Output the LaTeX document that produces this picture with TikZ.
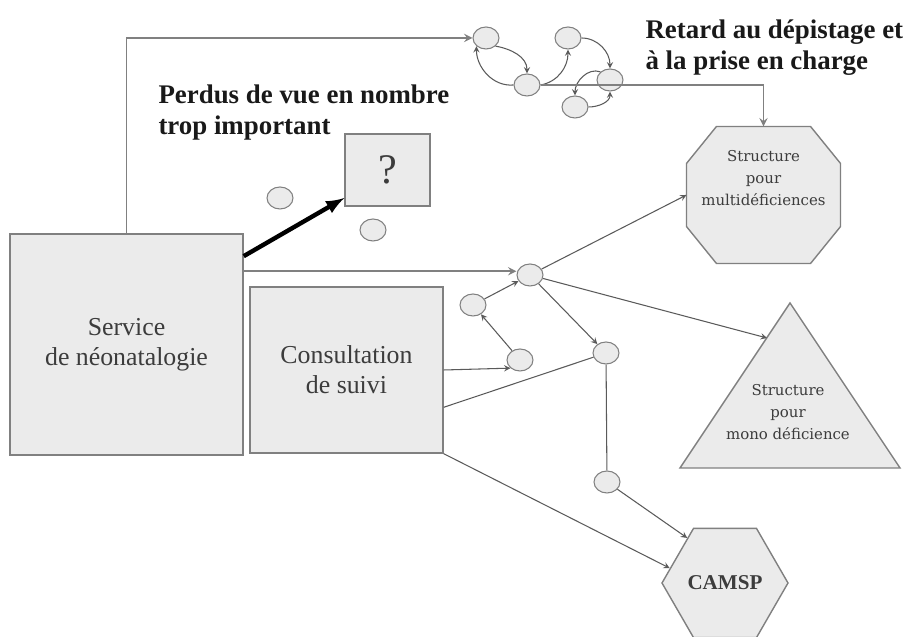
\documentclass[tikz,border=0pt]{standalone}
\usepackage{fontspec}
\setmainfont{Liberation Serif}
\newfontfamily\petitefonte{DejaVu Serif}
\usetikzlibrary{arrows,shapes.geometric}
\definecolor{fond}{RGB}{235,235,235}
\definecolor{bord}{RGB}{128,128,128}
\definecolor{lien}{RGB}{90,90,90}
\definecolor{texte}{RGB}{60,60,60}

\begin{document}
\begin{tikzpicture}[
line width=0.6pt,
forme/.style={draw=bord, fill=fond, line width=0.8pt},
boite/.style={rectangle, forme, text=texte, align=center, font=\fontsize{14.7}{17}\selectfont},
pastille/.style={ellipse, forme, line width=0.6pt, minimum width=0.52cm, minimum height=0.44cm, inner sep=0pt},
titre/.style={anchor=west, align=left, inner sep=0pt, text=black!90, font=\bfseries\fontsize{15.3}{17.3}\selectfont},
petit/.style={align=center, text=texte, font=\petitefonte\fontsize{8.5}{12.5}\selectfont},
]
\useasboundingbox (0,0) rectangle (18.26,12.74);

%Nodes
\node[boite, minimum width=4.66cm, minimum height=4.42cm] (serv) at (2.53,5.85) {Service\\de néonatalogie};
\node[boite, minimum width=3.86cm, minimum height=3.32cm] (cons) at (6.93,5.34) {Consultation\\de suivi};
\node[boite, minimum width=1.70cm, minimum height=1.44cm, font=\fontsize{24}{24}\selectfont] (quest) at (7.75,9.34) {?};

\node[minimum width=3.06cm, minimum height=2.72cm] (multi) at (15.27,8.84) {};
\draw[forme] ([xshift=0.6cm]multi.north west) -- ([xshift=-0.6cm]multi.north east)
  -- ([yshift=-0.74cm]multi.north east) -- ([yshift=0.74cm]multi.south east)
  -- ([xshift=-0.6cm]multi.south east) -- ([xshift=0.6cm]multi.south west)
  -- ([yshift=0.74cm]multi.south west) -- ([yshift=-0.74cm]multi.north west) -- cycle;
\node[petit] (multitxt) at (15.27,8.96) {Structure\\pour\\multidéficiences\\\mbox{}};

\node[regular polygon, regular polygon sides=6, forme, minimum size=2.52cm, inner sep=0pt, text=texte, font=\bfseries\fontsize{12}{14}\selectfont] (camsp) at (14.50,1.08) {CAMSP};

\coordinate (triA) at (13.60,3.38);
\coordinate (triB) at (15.80,6.68);
\coordinate (triC) at (18.00,3.38);
\coordinate (triin) at (15.34,5.98);
\draw[forme] (triA) -- (triB) -- (triC) -- cycle;
\node[petit] (mono) at (15.76,4.50) {Structure\\pour\\mono déficience};

\node[titre] (retard) at (12.90,11.79) {Retard au dépistage et\\à la prise en charge};
\node[titre] (perdus) at (3.16,10.49) {Perdus de vue en nombre\\trop important};

\node[pastille] (R1) at (9.72,11.98) {};
\node[pastille] (R2) at (10.54,11.04) {};
\node[pastille] (R3) at (11.36,11.98) {};
\node[pastille] (R4) at (12.20,11.14) {};
\node[pastille] (R5) at (11.50,10.60) {};

\node[pastille] (S1) at (10.60,7.24) {};
\node[pastille] (S2) at (9.46,6.64) {};
\node[pastille] (S3) at (10.40,5.54) {};
\node[pastille] (S4) at (12.12,5.68) {};
\node[pastille] (S5) at (12.14,3.10) {};

\node[pastille] (P1) at (5.60,8.78) {};
\node[pastille] (P2) at (7.46,8.14) {};

%Retard
\draw[->,>=stealth,bord,line width=1.1pt] (serv.north) |- (R1.west);
\draw[->,>=stealth,lien] (R1.south east) to[out=-10,in=90] (R2.north);
\draw[->,>=stealth,lien] (R2.west) to[out=185,in=-90] (R1.south west);
\draw[->,>=stealth,lien] (R2.east) to[out=10,in=-90] (R3.south);
\draw[->,>=stealth,lien] (R3.east) to[out=0,in=90] (R4.north);
\draw[->,>=stealth,lien] (R4.north west) to[out=160,in=90] (R5.north);
\draw[->,>=stealth,lien] (R5.east) to[out=0,in=-90] (R4.south);
\draw[->,>=stealth,bord,line width=1.1pt] (R2.east) -| (multi.north);

%Perdus
\draw[->,>=latex,line width=2.5pt] (serv.37) -- (quest.213);

%Suivi
\draw[->,>=stealth,bord,line width=1.1pt] (serv.32) -- (serv.32 -| S1.west);
\draw[->,>=stealth,lien] (S2) -- (S1);
\draw[->,>=stealth,lien] (S3) -- (S2);
\draw[->,>=stealth,lien] (cons.east) -- (S3.south west);
\draw[->,>=stealth,lien] (S1) -- (S4);
\draw[lien] (cons.-21) -- (S4);
\draw[lien] (S4) -- (S5);
\draw[->,>=stealth,lien] (S1) -- (multi.west);
\draw[->,>=stealth,lien] (S1) -- (triin);
\draw[->,>=stealth,lien] (cons.south east) -- (camsp.165);
\draw[->,>=stealth,lien] (S5) -- (camsp.130);

\end{tikzpicture}
\end{document}
